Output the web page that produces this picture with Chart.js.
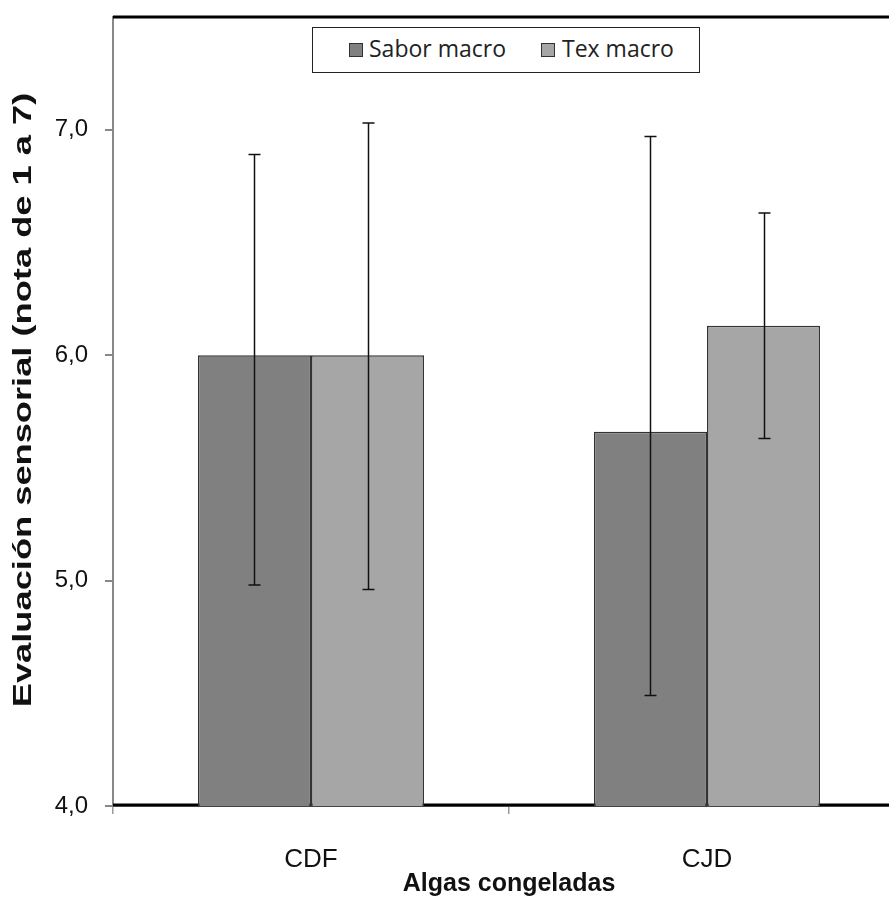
<!DOCTYPE html>
<html>
<head>
<meta charset="utf-8">
<script src="https://cdn.jsdelivr.net/npm/chart.js@4.4.1/dist/chart.umd.min.js"></script>
<style>
    html, body { margin: 0; padding: 0; background: #fff; overflow: hidden; }
    #wrap { position: relative; width: 889px; height: 899px; overflow: hidden; }
    #legend {
        position: absolute; left: 312px; top: 27px; width: 388px; height: 46px;
        box-sizing: border-box; border: 1.5px solid #222; background: #fff;
    }
    .swatch { position: absolute; top: 15px; width: 14px; height: 14px; box-sizing: border-box; border: 1px solid #333; }
    .label { position: absolute; top: 5px; font-family: "Open Sans", sans-serif; font-size: 23px; line-height: 30px; color: #222; white-space: nowrap; }
</style>
</head>
<body>
<div id="wrap">
    <!-- plot runs past the right edge in the original, so the canvas is wider and cropped -->
    <canvas id="chart" width="905" height="899"></canvas>
    <div id="legend">
        <div class="swatch" style="left:36px;background:#808080"></div>
        <div class="label" style="left:56px">Sabor macro</div>
        <div class="swatch" style="left:228px;background:#a6a6a6"></div>
        <div class="label" style="left:249px">Tex macro</div>
    </div>
</div>
<script>
// Data
const categories = ['CDF', 'CJD'];
const saborValues = [6.0, 5.66];
const texValues = [6.0, 6.13];
const saborHigh = [6.89, 6.97];
const saborLow = [4.98, 4.49];
const texHigh = [7.03, 6.63];
const texLow = [4.96, 5.63];
const yTicks = [4, 5, 6, 7];
const yTitle = 'Evaluación sensorial (nota de 1 a 7)';

const errorRanges = [
    { high: saborHigh, low: saborLow },
    { high: texHigh, low: texLow }
];

// Frame lines, stretched y title + error bars
const framePlugin = {
    id: 'frame',
    beforeDatasetsDraw(chart) {
        const { ctx, chartArea } = chart;
        ctx.save();
        ctx.strokeStyle = '#000';
        ctx.lineWidth = 3;
        ctx.beginPath();
        ctx.moveTo(chartArea.left, chartArea.top);
        ctx.lineTo(chartArea.right, chartArea.top);
        ctx.moveTo(chartArea.left, chartArea.bottom - 1);
        ctx.lineTo(chartArea.right, chartArea.bottom - 1);
        ctx.stroke();
        ctx.restore();
    },
    afterDatasetsDraw(chart) {
        const { ctx } = chart;
        const yScale = chart.scales.y;
        ctx.save();
        ctx.strokeStyle = '#111';
        ctx.lineWidth = 1.5;
        chart.data.datasets.forEach(function(ds, i) {
            const meta = chart.getDatasetMeta(i);
            meta.data.forEach(function(bar, j) {
                const x = Math.round(bar.x) + 0.5;
                const yHigh = yScale.getPixelForValue(errorRanges[i].high[j]);
                const yLow = yScale.getPixelForValue(errorRanges[i].low[j]);
                ctx.beginPath();
                ctx.moveTo(x, yHigh);
                ctx.lineTo(x, yLow);
                ctx.moveTo(x - 6, yHigh);
                ctx.lineTo(x + 6, yHigh);
                ctx.moveTo(x - 6, yLow);
                ctx.lineTo(x + 6, yLow);
                ctx.stroke();
            });
        });
        ctx.restore();

        // y title, stretched along its length like the original
        ctx.save();
        ctx.translate(24, 400);
        ctx.rotate(-Math.PI / 2);
        ctx.scale(1.45, 1);
        ctx.font = 'bold 25px Arial, "Liberation Sans"';
        ctx.fillStyle = '#111';
        ctx.textAlign = 'center';
        ctx.textBaseline = 'middle';
        ctx.fillText(yTitle, 0, 0);
        ctx.restore();
    }
};

const ctx = document.getElementById('chart').getContext('2d');
new Chart(ctx, {
    type: 'bar',
    data: {
        labels: categories,
        datasets: [
            {
                label: 'Sabor macro',
                data: saborValues,
                backgroundColor: '#808080',
                borderColor: '#333',
                borderWidth: 1.5,
                borderSkipped: 'bottom'
            },
            {
                label: 'Tex macro',
                data: texValues,
                backgroundColor: '#a6a6a6',
                borderColor: '#333',
                borderWidth: 1.5,
                borderSkipped: 'bottom'
            }
        ]
    },
    options: {
        responsive: false,
        animation: false,
        layout: { padding: { top: 17, right: 0, left: 0, bottom: 0 } },
        plugins: {
            legend: { display: false },
            tooltip: { enabled: false }
        },
        datasets: {
            bar: { categoryPercentage: 0.571, barPercentage: 1.0 }
        },
        scales: {
            x: {
                afterFit(scale) {
                    scale.height = 93;
                    scale.paddingLeft = 0;
                    scale.paddingRight = 0;
                },
                grid: {
                    offset: true,
                    drawOnChartArea: false,
                    color: '#999',
                    tickLength: 8,
                    lineWidth: 1.5
                },
                border: { color: '#888', width: 2 },
                ticks: {
                    color: '#111',
                    padding: 30,
                    font: { family: 'Arial, "Liberation Sans"', size: 26 }
                },
                title: {
                    display: true,
                    text: 'Algas congeladas',
                    color: '#111',
                    padding: { top: 0, bottom: 0 },
                    font: { family: 'Arial, "Liberation Sans"', size: 25, weight: 'bold' }
                }
            },
            y: {
                min: 4,
                max: 7.5,
                afterFit(scale) {
                    scale.width = 113;
                    scale.paddingTop = 0;
                    scale.paddingBottom = 0;
                },
                afterBuildTicks(scale) {
                    scale.ticks = yTicks.map(v => ({ value: v }));
                },
                grid: {
                    drawOnChartArea: false,
                    color: '#888',
                    tickLength: 8,
                    lineWidth: 2
                },
                border: { color: '#888', width: 2 },
                ticks: {
                    color: '#111',
                    padding: 17,
                    font: { family: 'Arial, "Liberation Sans"', size: 24 },
                    callback: function(value) { return value.toFixed(1).replace('.', ','); }
                }
            }
        }
    },
    plugins: [framePlugin]
});
</script>
</body>
</html>
